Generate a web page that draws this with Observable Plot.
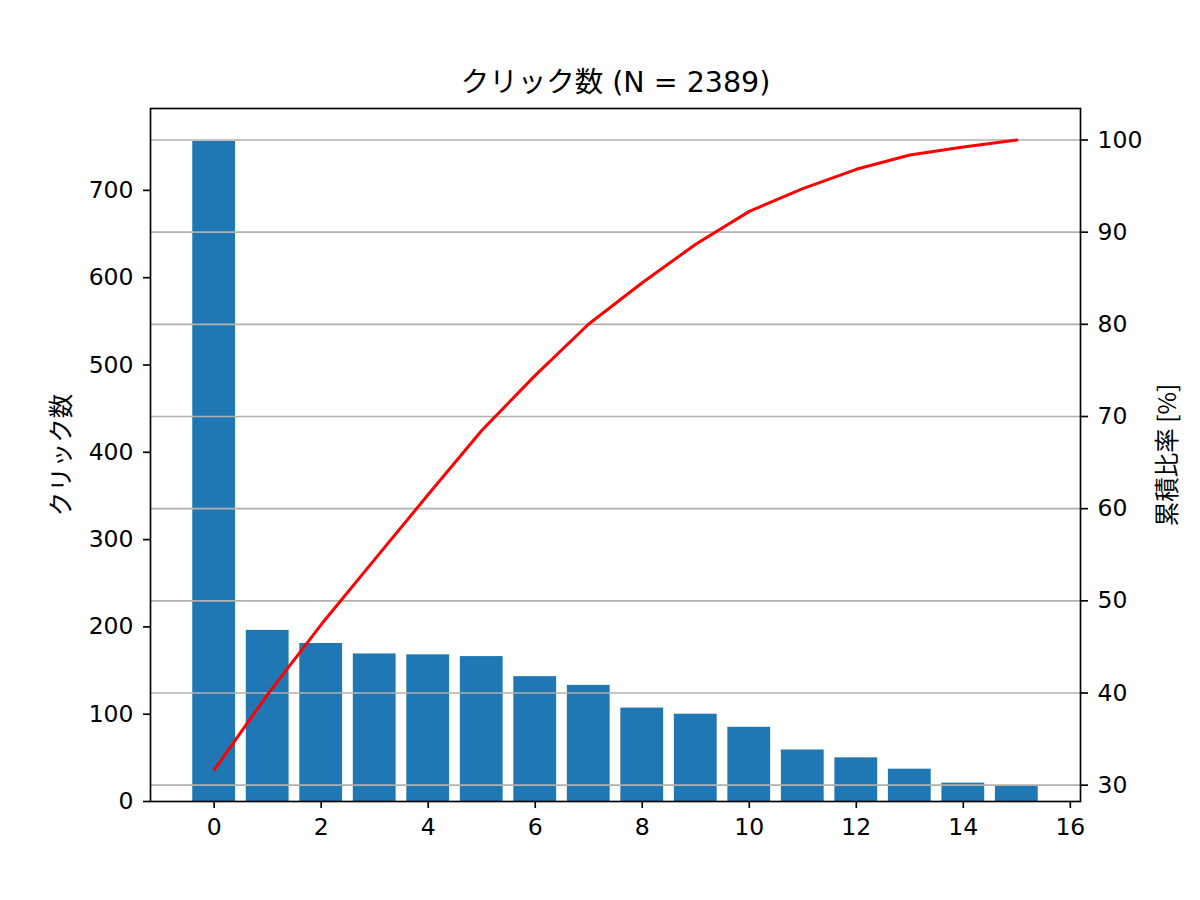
<!DOCTYPE html>
<html><head><meta charset="utf-8">
<script src="https://cdn.jsdelivr.net/npm/d3@7"></script>
<script src="https://cdn.jsdelivr.net/npm/@observablehq/plot@0.6"></script>
<style>
body{margin:0;background:#fff;}
#wrap{position:relative;width:1200px;height:900px;}
#wrap svg{position:absolute;left:0;top:0;}
</style></head><body><div id="wrap"></div>
<script>
const ranks = [0,1,2,3,4,5,6,7,8,9,10,11,12,13,14,15];
const clicks = [756,196,181,169,168,166,143,133,107,100,85,59,50,37,21,18];
const leftTicks = [0,100,200,300,400,500,600,700];
const rightTicks = [30,40,50,60,70,80,90,100];
const xTicks = [0,2,4,6,8,10,12,14,16];
const title = "クリック数 (N = 2389)";
const yLabel = "クリック数";
const y2Label = "累積比率 [%]";

const total = d3.sum(clicks);
let acc = 0;
const cum = clicks.map(v => (acc += v) / total * 100);
const bars = ranks.map((r, i) => ({r, v: clicks[i]}));
const line = ranks.map((r, i) => ({r, p: cum[i]}));

const font = "'DejaVu Sans', 'Noto Sans CJK JP', sans-serif";
const jfont = "'Noto Sans CJK JP', sans-serif";
const common = {width: 1200, height: 900, marginLeft: 150, marginRight: 120, marginTop: 108, marginBottom: 99,
  style: {fontFamily: font, fontSize: "23.5px", color: "#000", background: "transparent", overflow: "visible"}};
const xDomain = [-0.4 - 0.79, 15.4 + 0.79];
const yMax = d3.max(clicks) * 1.05;
const pMin = d3.min(cum), pMax = d3.max(cum), pm = (pMax - pMin) * 0.05;

const p1 = Plot.plot({...common,
  x: {domain: xDomain}, y: {domain: [0, yMax]},
  marks: [
    Plot.rect(bars, {x1: d => d.r - 0.4, x2: d => d.r + 0.4, y1: 0, y2: "v", fill: "#1f77b4"}),
    Plot.axisX({ticks: xTicks, tickSize: 7, tickPadding: 10, strokeWidth: 1.67, label: null, tickFormat: d => String(d)}),
    Plot.axisY({ticks: leftTicks, tickSize: 7, tickPadding: 10, strokeWidth: 1.67, label: null, tickFormat: d => String(d)}),
    Plot.text([yLabel], {frameAnchor: "left", dx: -88, rotate: -90, textAnchor: "middle", lineAnchor: "middle", fontFamily: jfont, fontSize: 24.5, text: d => d}),
    Plot.text([title], {frameAnchor: "top", dy: -37, fontSize: 28.5, text: d => d})
  ]});
const p2 = Plot.plot({...common,
  x: {domain: xDomain, axis: null}, y: {domain: [pMin - pm, pMax + pm]},
  marks: [
    Plot.ruleY(rightTicks, {stroke: "#b0b0b0", strokeWidth: 1.67}),
    Plot.line(line, {x: "r", y: "p", stroke: "red", strokeWidth: 3}),
    Plot.axisY({anchor: "right", ticks: rightTicks, tickSize: 7, tickPadding: 10, strokeWidth: 1.67, label: null, tickFormat: d => String(d)}),
    Plot.text([y2Label], {frameAnchor: "right", dx: 88, rotate: -90, textAnchor: "middle", lineAnchor: "middle", fontFamily: jfont, fontSize: 24.5, text: d => d}),
    Plot.frame({stroke: "#000", strokeWidth: 1.67})
  ]});
const wrap = document.getElementById("wrap");
wrap.appendChild(p1);
wrap.appendChild(p2);
</script></body></html>
